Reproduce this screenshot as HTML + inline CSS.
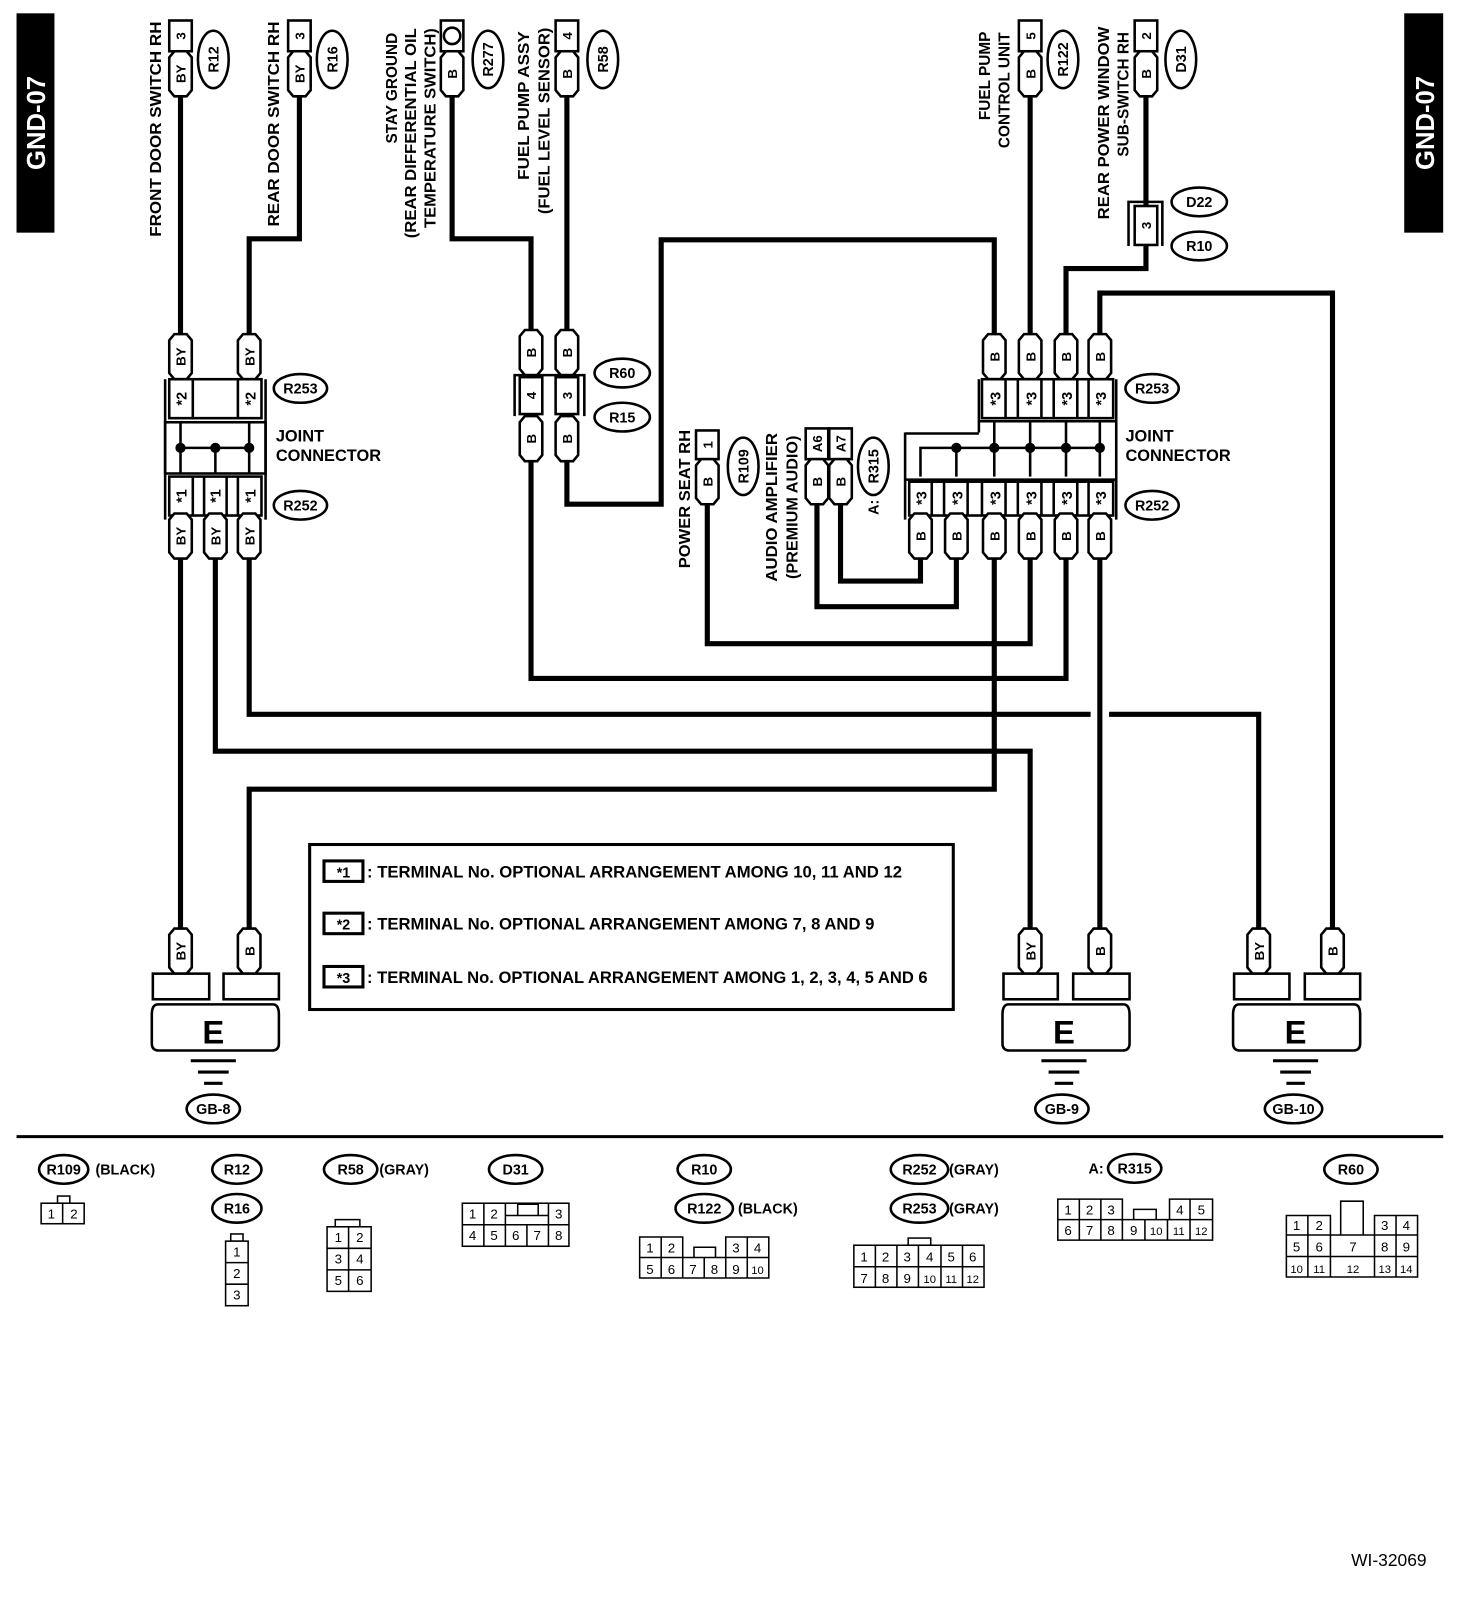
<!DOCTYPE html>
<html><head><meta charset="utf-8"><style>
html,body{margin:0;padding:0;background:#fff;}
svg{display:block;}
text{font-family:"Liberation Sans",Arial,sans-serif;font-weight:bold;fill:#000;}
.w{fill:none;stroke:#000;stroke-width:5;}
.b{fill:#fff;stroke:#000;stroke-width:2.5;}
.n{font-weight:normal;}
</style></head><body>
<svg width="1472" height="1606" viewBox="0 0 1436 1567" xmlns="http://www.w3.org/2000/svg">
<defs>
<path id="p" d="M-11,-16 L-6,-22 L6,-22 L11,-16 L11,16 L6,22 L-6,22 L-11,16Z" fill="#fff" stroke="#000" stroke-width="2.5"/>
</defs>
<rect width="1436" height="1567" fill="#fff"/>

<rect x="16" y="13" width="37" height="214" fill="#000"/>
<text transform="translate(44,120) rotate(-90)" text-anchor="middle" font-size="25" style="fill:#fff">GND-07</text>
<rect x="1370" y="13" width="38" height="214" fill="#000"/>
<text transform="translate(1399,120) rotate(-90)" text-anchor="middle" font-size="25" style="fill:#fff">GND-07</text>

<g class="w">
<path d="M176,95 V330"/>
<path d="M292,95 V233 H243 V330"/>
<path d="M441,95 V233 H518 V322"/>
<path d="M553,95 V322"/>
<path d="M518,450 V662 H1040 V545"/>
<path d="M553,450 V492 H645 V234 H970 V326"/>
<path d="M1005,95 V326"/>
<path d="M1118,95 V200"/>
<path d="M1118,240 V262 H1040 V326"/>
<path d="M1073,326 V286 H1300 V905"/>
<path d="M898,545 V567 H820 V492"/>
<path d="M933,545 V592 H797 V492"/>
<path d="M970,545 V770 H243 V905"/>
<path d="M1005,545 V628 H690 V492"/>
<path d="M1073,545 V905"/>
<path d="M176,545 V905"/>
<path d="M210,545 V733 H1005 V905"/>
<path d="M243,545 V697 H1064"/>
<path d="M1082,697 H1228 V905"/>
</g>

<g>
<rect class="b" x="165" y="20" width="22" height="30"/>
<text transform="translate(181,35) rotate(-90)" text-anchor="middle" font-size="13">3</text>
<use href="#p" x="176" y="72"/>
<text transform="translate(181,72) rotate(-90)" text-anchor="middle" font-size="13">BY</text>
<ellipse class="b" cx="208" cy="58" rx="15" ry="28"/>
<text transform="translate(213,58) rotate(-90)" text-anchor="middle" font-size="14">R12</text>
<text transform="translate(157,126) rotate(-90)" text-anchor="middle" font-size="15" textLength="210" lengthAdjust="spacingAndGlyphs">FRONT DOOR SWITCH RH</text>

<rect class="b" x="281" y="20" width="22" height="30"/>
<text transform="translate(297,35) rotate(-90)" text-anchor="middle" font-size="13">3</text>
<use href="#p" x="292" y="72"/>
<text transform="translate(297,72) rotate(-90)" text-anchor="middle" font-size="13">BY</text>
<ellipse class="b" cx="324" cy="58" rx="15" ry="28"/>
<text transform="translate(329,58) rotate(-90)" text-anchor="middle" font-size="14">R16</text>
<text transform="translate(272,121) rotate(-90)" text-anchor="middle" font-size="15" textLength="200" lengthAdjust="spacingAndGlyphs">REAR DOOR SWITCH RH</text>

<rect class="b" x="430" y="20" width="22" height="30"/>
<circle cx="441" cy="35" r="8" fill="#fff" stroke="#000" stroke-width="2.5"/>
<use href="#p" x="441" y="72"/>
<text transform="translate(446,72) rotate(-90)" text-anchor="middle" font-size="13">B</text>
<ellipse class="b" cx="476" cy="58" rx="15" ry="28"/>
<text transform="translate(481,58) rotate(-90)" text-anchor="middle" font-size="14">R277</text>
<text transform="translate(387,86) rotate(-90)" text-anchor="middle" font-size="15">STAY GROUND</text>
<text transform="translate(406,130) rotate(-90)" text-anchor="middle" font-size="15" textLength="205" lengthAdjust="spacingAndGlyphs">(REAR DIFFERENTIAL OIL</text>
<text transform="translate(425,125) rotate(-90)" text-anchor="middle" font-size="15" textLength="195" lengthAdjust="spacingAndGlyphs">TEMPERATURE SWITCH)</text>

<rect class="b" x="542" y="20" width="22" height="30"/>
<text transform="translate(558,35) rotate(-90)" text-anchor="middle" font-size="13">4</text>
<use href="#p" x="553" y="72"/>
<text transform="translate(558,72) rotate(-90)" text-anchor="middle" font-size="13">B</text>
<ellipse class="b" cx="588" cy="58" rx="15" ry="28"/>
<text transform="translate(593,58) rotate(-90)" text-anchor="middle" font-size="14">R58</text>
<text transform="translate(516,103) rotate(-90)" text-anchor="middle" font-size="15" textLength="145" lengthAdjust="spacingAndGlyphs">FUEL PUMP ASSY</text>
<text transform="translate(536,118) rotate(-90)" text-anchor="middle" font-size="15" textLength="182" lengthAdjust="spacingAndGlyphs">(FUEL LEVEL SENSOR)</text>

<rect class="b" x="994" y="20" width="22" height="30"/>
<text transform="translate(1010,35) rotate(-90)" text-anchor="middle" font-size="13">5</text>
<use href="#p" x="1005" y="72"/>
<text transform="translate(1010,72) rotate(-90)" text-anchor="middle" font-size="13">B</text>
<ellipse class="b" cx="1037" cy="58" rx="15" ry="28"/>
<text transform="translate(1042,58) rotate(-90)" text-anchor="middle" font-size="14">R122</text>
<text transform="translate(966,74) rotate(-90)" text-anchor="middle" font-size="15">FUEL PUMP</text>
<text transform="translate(985,88) rotate(-90)" text-anchor="middle" font-size="15">CONTROL UNIT</text>

<rect class="b" x="1107" y="20" width="22" height="30"/>
<text transform="translate(1123,35) rotate(-90)" text-anchor="middle" font-size="13">2</text>
<use href="#p" x="1118" y="72"/>
<text transform="translate(1123,72) rotate(-90)" text-anchor="middle" font-size="13">B</text>
<ellipse class="b" cx="1152" cy="58" rx="15" ry="28"/>
<text transform="translate(1157,58) rotate(-90)" text-anchor="middle" font-size="14">D31</text>
<text transform="translate(1082,120) rotate(-90)" text-anchor="middle" font-size="15" textLength="188" lengthAdjust="spacingAndGlyphs">REAR POWER WINDOW</text>
<text transform="translate(1101,92) rotate(-90)" text-anchor="middle" font-size="15">SUB-SWITCH RH</text>

<path d="M1101,240 V197 H1134 V240" fill="none" stroke="#000" stroke-width="2.5"/>
<rect class="b" x="1107" y="201" width="22" height="38"/>
<text transform="translate(1123,220) rotate(-90)" text-anchor="middle" font-size="13">3</text>
<ellipse class="b" cx="1170" cy="197" rx="27" ry="14"/>
<text x="1170" y="202" text-anchor="middle" font-size="14">D22</text>
<ellipse class="b" cx="1170" cy="240" rx="27" ry="14"/>
<text x="1170" y="245" text-anchor="middle" font-size="14">R10</text>
</g>

<use href="#p" x="518" y="344"/><text transform="translate(523,344) rotate(-90)" text-anchor="middle" font-size="13">B</text>
<use href="#p" x="553" y="344"/><text transform="translate(558,344) rotate(-90)" text-anchor="middle" font-size="13">B</text>
<path d="M502,406 V366 H570 V406" fill="none" stroke="#000" stroke-width="2.5"/>
<rect class="b" x="507" y="368" width="22" height="36"/><rect class="b" x="542" y="368" width="22" height="36"/>
<text transform="translate(523,386) rotate(-90)" text-anchor="middle" font-size="13">4</text>
<text transform="translate(558,386) rotate(-90)" text-anchor="middle" font-size="13">3</text>
<use href="#p" x="518" y="428"/><text transform="translate(523,428) rotate(-90)" text-anchor="middle" font-size="13">B</text>
<use href="#p" x="553" y="428"/><text transform="translate(558,428) rotate(-90)" text-anchor="middle" font-size="13">B</text>
<ellipse class="b" cx="607" cy="364" rx="27" ry="14"/><text x="607" y="369" text-anchor="middle" font-size="14">R60</text>
<ellipse class="b" cx="607" cy="407" rx="27" ry="14"/><text x="607" y="412" text-anchor="middle" font-size="14">R15</text>

<use href="#p" x="176" y="348"/><text transform="translate(181,348) rotate(-90)" text-anchor="middle" font-size="13">BY</text>
<use href="#p" x="243" y="348"/><text transform="translate(248,348) rotate(-90)" text-anchor="middle" font-size="13">BY</text>
<path d="M161,370 V507 M259,370 V507" stroke="#000" stroke-width="2.5"/>
<rect class="b" x="165" y="370" width="90" height="38"/>
<path d="M188,370 V408 M232,370 V408" stroke="#000" stroke-width="2.5"/>
<text transform="translate(182,389) rotate(-90)" text-anchor="middle" font-size="14">*2</text>
<text transform="translate(249,389) rotate(-90)" text-anchor="middle" font-size="14">*2</text>
<rect x="161" y="412" width="98" height="50" fill="none" stroke="#000" stroke-width="2.5"/>
<path d="M176,412 V462 M210,437 V462 M243,412 V462 M176,437 H243" stroke="#000" stroke-width="2.5"/>
<circle cx="176" cy="437" r="5"/><circle cx="210" cy="437" r="5"/><circle cx="243" cy="437" r="5"/>
<rect class="b" x="165" y="465" width="90" height="38"/>
<path d="M188,465 V503 M199,465 V503 M221,465 V503 M232,465 V503" stroke="#000" stroke-width="2.5"/>
<text transform="translate(182,484) rotate(-90)" text-anchor="middle" font-size="14">*1</text>
<text transform="translate(215,484) rotate(-90)" text-anchor="middle" font-size="14">*1</text>
<text transform="translate(249,484) rotate(-90)" text-anchor="middle" font-size="14">*1</text>
<use href="#p" x="176" y="523"/><text transform="translate(181,523) rotate(-90)" text-anchor="middle" font-size="13">BY</text>
<use href="#p" x="210" y="523"/><text transform="translate(215,523) rotate(-90)" text-anchor="middle" font-size="13">BY</text>
<use href="#p" x="243" y="523"/><text transform="translate(248,523) rotate(-90)" text-anchor="middle" font-size="13">BY</text>
<ellipse class="b" cx="293" cy="379" rx="26" ry="14"/><text x="293" y="384" text-anchor="middle" font-size="14">R253</text>
<ellipse class="b" cx="293" cy="493" rx="26" ry="14"/><text x="293" y="498" text-anchor="middle" font-size="14">R252</text>
<text x="269" y="431" font-size="16">JOINT</text><text x="269" y="450" font-size="16">CONNECTOR</text>

<g>
<use href="#p" x="970" y="348"/><text transform="translate(975,348) rotate(-90)" text-anchor="middle" font-size="13">B</text>
<use href="#p" x="1005" y="348"/><text transform="translate(1010,348) rotate(-90)" text-anchor="middle" font-size="13">B</text>
<use href="#p" x="1040" y="348"/><text transform="translate(1045,348) rotate(-90)" text-anchor="middle" font-size="13">B</text>
<use href="#p" x="1073" y="348"/><text transform="translate(1078,348) rotate(-90)" text-anchor="middle" font-size="13">B</text>
<path d="M955,370 V422 M1089,370 V507 M883,422 V507" stroke="#000" stroke-width="2.5"/>
<rect class="b" x="958" y="370" width="128" height="38"/>
<path d="M981,370 V408 M993,370 V408 M1016,370 V408 M1028,370 V408 M1051,370 V408 M1062,370 V408" stroke="#000" stroke-width="2.5"/>
<text transform="translate(976,389) rotate(-90)" text-anchor="middle" font-size="14">*3</text>
<text transform="translate(1011,389) rotate(-90)" text-anchor="middle" font-size="14">*3</text>
<text transform="translate(1046,389) rotate(-90)" text-anchor="middle" font-size="14">*3</text>
<text transform="translate(1079,389) rotate(-90)" text-anchor="middle" font-size="14">*3</text>
<path d="M883,423 H955 M955,411 H1089 M883,468 H1089" fill="none" stroke="#000" stroke-width="2.5"/>
<path d="M898,465 V437 H1073 M933,437 V465 M970,411 V465 M1005,411 V465 M1040,411 V465 M1073,411 V465" fill="none" stroke="#000" stroke-width="2.5"/>
<circle cx="933" cy="437" r="5"/><circle cx="970" cy="437" r="5"/><circle cx="1005" cy="437" r="5"/><circle cx="1040" cy="437" r="5"/><circle cx="1073" cy="437" r="5"/>
<rect class="b" x="887" y="470" width="199" height="33"/>
<path d="M909,470 V503 M921,470 V503 M944,470 V503 M958,470 V503 M981,470 V503 M993,470 V503 M1016,470 V503 M1028,470 V503 M1051,470 V503 M1062,470 V503" stroke="#000" stroke-width="2.5"/>
<text transform="translate(904,486) rotate(-90)" text-anchor="middle" font-size="14">*3</text>
<text transform="translate(939,486) rotate(-90)" text-anchor="middle" font-size="14">*3</text>
<text transform="translate(976,486) rotate(-90)" text-anchor="middle" font-size="14">*3</text>
<text transform="translate(1011,486) rotate(-90)" text-anchor="middle" font-size="14">*3</text>
<text transform="translate(1046,486) rotate(-90)" text-anchor="middle" font-size="14">*3</text>
<text transform="translate(1079,486) rotate(-90)" text-anchor="middle" font-size="14">*3</text>
<use href="#p" x="898" y="523"/><text transform="translate(903,523) rotate(-90)" text-anchor="middle" font-size="13">B</text>
<use href="#p" x="933" y="523"/><text transform="translate(938,523) rotate(-90)" text-anchor="middle" font-size="13">B</text>
<use href="#p" x="970" y="523"/><text transform="translate(975,523) rotate(-90)" text-anchor="middle" font-size="13">B</text>
<use href="#p" x="1005" y="523"/><text transform="translate(1010,523) rotate(-90)" text-anchor="middle" font-size="13">B</text>
<use href="#p" x="1040" y="523"/><text transform="translate(1045,523) rotate(-90)" text-anchor="middle" font-size="13">B</text>
<use href="#p" x="1073" y="523"/><text transform="translate(1078,523) rotate(-90)" text-anchor="middle" font-size="13">B</text>
<ellipse class="b" cx="1124" cy="379" rx="26" ry="14"/><text x="1124" y="384" text-anchor="middle" font-size="14">R253</text>
<ellipse class="b" cx="1124" cy="493" rx="26" ry="14"/><text x="1124" y="498" text-anchor="middle" font-size="14">R252</text>
<text x="1098" y="431" font-size="16">JOINT</text><text x="1098" y="450" font-size="16">CONNECTOR</text>
</g>

<rect class="b" x="679" y="420" width="22" height="28"/>
<text transform="translate(695,434) rotate(-90)" text-anchor="middle" font-size="13">1</text>
<use href="#p" x="690" y="470"/><text transform="translate(695,470) rotate(-90)" text-anchor="middle" font-size="13">B</text>
<ellipse class="b" cx="725" cy="455" rx="15" ry="28"/>
<text transform="translate(730,455) rotate(-90)" text-anchor="middle" font-size="14">R109</text>
<text transform="translate(673,487) rotate(-90)" text-anchor="middle" font-size="15" textLength="135" lengthAdjust="spacingAndGlyphs">POWER SEAT RH</text>
<rect class="b" x="786" y="418" width="22" height="30"/><rect class="b" x="809" y="418" width="22" height="30"/>
<text transform="translate(802,433) rotate(-90)" text-anchor="middle" font-size="13">A6</text>
<text transform="translate(825,433) rotate(-90)" text-anchor="middle" font-size="13">A7</text>
<use href="#p" x="797" y="470"/><text transform="translate(802,470) rotate(-90)" text-anchor="middle" font-size="13">B</text>
<use href="#p" x="820" y="470"/><text transform="translate(825,470) rotate(-90)" text-anchor="middle" font-size="13">B</text>
<ellipse class="b" cx="852" cy="455" rx="15" ry="28"/>
<text transform="translate(857,455) rotate(-90)" text-anchor="middle" font-size="14">R315</text>
<text transform="translate(857,495) rotate(-90)" text-anchor="middle" font-size="14">A:</text>
<text transform="translate(758,495) rotate(-90)" text-anchor="middle" font-size="15" textLength="145" lengthAdjust="spacingAndGlyphs">AUDIO AMPLIFIER</text>
<text transform="translate(778,495) rotate(-90)" text-anchor="middle" font-size="15" textLength="140" lengthAdjust="spacingAndGlyphs">(PREMIUM AUDIO)</text>

<rect x="302" y="824" width="628" height="161" fill="none" stroke="#000" stroke-width="3"/>
<g font-size="16">
<rect x="316" y="840" width="38" height="20" fill="none" stroke="#000" stroke-width="3"/><text x="335" y="856" text-anchor="middle" font-size="14">*1</text>
<text x="358" y="856" textLength="522" lengthAdjust="spacingAndGlyphs">: TERMINAL No. OPTIONAL ARRANGEMENT AMONG 10, 11 AND 12</text>
<rect x="316" y="891" width="38" height="20" fill="none" stroke="#000" stroke-width="3"/><text x="335" y="907" text-anchor="middle" font-size="14">*2</text>
<text x="358" y="907" textLength="495" lengthAdjust="spacingAndGlyphs">: TERMINAL No. OPTIONAL ARRANGEMENT AMONG 7, 8 AND 9</text>
<rect x="316" y="943" width="38" height="20" fill="none" stroke="#000" stroke-width="3"/><text x="335" y="959" text-anchor="middle" font-size="14">*3</text>
<text x="358" y="959" textLength="547" lengthAdjust="spacingAndGlyphs">: TERMINAL No. OPTIONAL ARRANGEMENT AMONG 1, 2, 3, 4, 5 AND 6</text>
</g>

<g>
<use href="#p" x="176" y="928"/><text transform="translate(181,928) rotate(-90)" text-anchor="middle" font-size="13">BY</text>
<use href="#p" x="243" y="928"/><text transform="translate(248,928) rotate(-90)" text-anchor="middle" font-size="13">B</text>
<rect class="b" x="149" y="950" width="55" height="25"/><rect class="b" x="218" y="950" width="54" height="25"/>
<path d="M154,980 Q148,980 148,990 V1018 Q148,1025 155,1025 H265 Q272,1025 272,1018 V990 Q272,980 266,980 Z" class="b"/>
<text x="208" y="1018" text-anchor="middle" font-size="32">E</text>
<path d="M186,1035 H230 M193,1046 H223 M199,1057 H217" stroke="#000" stroke-width="3"/>
<ellipse class="b" cx="208" cy="1082" rx="26" ry="14"/><text x="208" y="1087" text-anchor="middle" font-size="14">GB-8</text>

<use href="#p" x="1005" y="928"/><text transform="translate(1010,928) rotate(-90)" text-anchor="middle" font-size="13">BY</text>
<use href="#p" x="1073" y="928"/><text transform="translate(1078,928) rotate(-90)" text-anchor="middle" font-size="13">B</text>
<rect class="b" x="979" y="950" width="53" height="25"/><rect class="b" x="1047" y="950" width="55" height="25"/>
<path d="M984,980 Q978,980 978,990 V1018 Q978,1025 985,1025 H1095 Q1102,1025 1102,1018 V990 Q1102,980 1096,980 Z" class="b"/>
<text x="1038" y="1018" text-anchor="middle" font-size="32">E</text>
<path d="M1016,1035 H1060 M1023,1046 H1053 M1029,1057 H1047" stroke="#000" stroke-width="3"/>
<ellipse class="b" cx="1036" cy="1082" rx="26" ry="14"/><text x="1036" y="1087" text-anchor="middle" font-size="14">GB-9</text>

<use href="#p" x="1228" y="928"/><text transform="translate(1233,928) rotate(-90)" text-anchor="middle" font-size="13">BY</text>
<use href="#p" x="1300" y="928"/><text transform="translate(1305,928) rotate(-90)" text-anchor="middle" font-size="13">B</text>
<rect class="b" x="1204" y="950" width="54" height="25"/><rect class="b" x="1273" y="950" width="54" height="25"/>
<path d="M1209,980 Q1203,980 1203,990 V1018 Q1203,1025 1210,1025 H1320 Q1327,1025 1327,1018 V990 Q1327,980 1321,980 Z" class="b"/>
<text x="1264" y="1018" text-anchor="middle" font-size="32">E</text>
<path d="M1242,1035 H1286 M1249,1046 H1279 M1255,1057 H1273" stroke="#000" stroke-width="3"/>
<ellipse class="b" cx="1262" cy="1082" rx="28" ry="14"/><text x="1262" y="1087" text-anchor="middle" font-size="14">GB-10</text>
</g>

<path d="M16,1109 H1408" stroke="#000" stroke-width="3"/>

<g font-size="14">
<ellipse class="b" cx="62" cy="1141" rx="24" ry="14"/><text x="62" y="1146" text-anchor="middle">R109</text><text x="93" y="1146">(BLACK)</text>
<g fill="#fff" stroke="#000" stroke-width="1.5"><rect x="56" y="1167" width="12" height="7"/><rect x="40" y="1174" width="42" height="20"/><path d="M61,1174 V1194"/></g>
<g class="n" text-anchor="middle" font-size="13"><text class="n" x="50" y="1189">1</text><text class="n" x="72" y="1189">2</text></g>

<ellipse class="b" cx="231" cy="1141" rx="24" ry="14"/><text x="231" y="1146" text-anchor="middle">R12</text>
<ellipse class="b" cx="231" cy="1179" rx="24" ry="14"/><text x="231" y="1184" text-anchor="middle">R16</text>
<g fill="#fff" stroke="#000" stroke-width="1.5"><rect x="225" y="1204" width="12" height="7"/><rect x="220" y="1211" width="22" height="63"/><path d="M220,1232 H242 M220,1253 H242"/></g>
<g text-anchor="middle" font-size="13"><text class="n" x="231" y="1226">1</text><text class="n" x="231" y="1247">2</text><text class="n" x="231" y="1268">3</text></g>

<ellipse class="b" cx="342" cy="1141" rx="26" ry="14"/><text x="342" y="1146" text-anchor="middle">R58</text><text x="370" y="1146">(GRAY)</text>
<g fill="#fff" stroke="#000" stroke-width="1.5"><rect x="327" y="1190" width="24" height="7"/><rect x="319" y="1197" width="43" height="63"/><path d="M340,1197 V1260 M319,1218 H362 M319,1239 H362"/></g>
<g text-anchor="middle" font-size="13"><text class="n" x="330" y="1212">1</text><text class="n" x="351" y="1212">2</text><text class="n" x="330" y="1233">3</text><text class="n" x="351" y="1233">4</text><text class="n" x="330" y="1254">5</text><text class="n" x="351" y="1254">6</text></g>

<ellipse class="b" cx="503" cy="1141" rx="26" ry="14"/><text x="503" y="1146" text-anchor="middle">D31</text>
<g fill="none" stroke="#000" stroke-width="1.5"><rect x="451" y="1174" width="104" height="42"/><path d="M451,1195 H555 M472,1174 V1216 M493,1174 V1216 M514,1195 V1216 M535,1174 V1216 M493,1186 H535 M505,1186 V1175 H525 V1186"/></g>
<g text-anchor="middle" font-size="13"><text class="n" x="461" y="1189">1</text><text class="n" x="482" y="1189">2</text><text class="n" x="545" y="1189">3</text><text class="n" x="461" y="1210">4</text><text class="n" x="482" y="1210">5</text><text class="n" x="503" y="1210">6</text><text class="n" x="524" y="1210">7</text><text class="n" x="545" y="1210">8</text></g>

<ellipse class="b" cx="687" cy="1141" rx="26" ry="14"/><text x="687" y="1146" text-anchor="middle">R10</text>
<ellipse class="b" cx="687" cy="1179" rx="28" ry="14"/><text x="687" y="1184" text-anchor="middle">R122</text><text x="720" y="1184">(BLACK)</text>
<g fill="none" stroke="#000" stroke-width="1.5"><path d="M624,1207 H666 V1227 H708 V1207 H750 V1247 H624 Z M624,1227 H666 M708,1227 H750 M645,1207 V1247 M666,1227 V1247 M687,1227 V1247 M708,1227 V1247 M729,1207 V1247 M677,1227 V1217 H698 V1227"/></g>
<g text-anchor="middle" font-size="13"><text class="n" x="634" y="1222">1</text><text class="n" x="655" y="1222">2</text><text class="n" x="718" y="1222">3</text><text class="n" x="739" y="1222">4</text><text class="n" x="634" y="1243">5</text><text class="n" x="655" y="1243">6</text><text class="n" x="676" y="1243">7</text><text class="n" x="697" y="1243">8</text><text class="n" x="718" y="1243">9</text><text class="n" x="739" y="1243" font-size="11">10</text></g>

<ellipse class="b" cx="897" cy="1141" rx="28" ry="14"/><text x="897" y="1146" text-anchor="middle">R252</text><text x="926" y="1146">(GRAY)</text>
<ellipse class="b" cx="897" cy="1179" rx="28" ry="14"/><text x="897" y="1184" text-anchor="middle">R253</text><text x="926" y="1184">(GRAY)</text>
<g fill="none" stroke="#000" stroke-width="1.5"><rect x="886" y="1208" width="22" height="7"/><rect x="833" y="1215" width="127" height="41"/><path d="M833,1236 H960 M854,1215 V1256 M875,1215 V1256 M896,1215 V1256 M918,1215 V1256 M939,1215 V1256"/></g>
<g text-anchor="middle" font-size="13"><text class="n" x="843" y="1231">1</text><text class="n" x="864" y="1231">2</text><text class="n" x="885" y="1231">3</text><text class="n" x="907" y="1231">4</text><text class="n" x="928" y="1231">5</text><text class="n" x="949" y="1231">6</text><text class="n" x="843" y="1252">7</text><text class="n" x="864" y="1252">8</text><text class="n" x="885" y="1252">9</text><text class="n" x="907" y="1252" font-size="11">10</text><text class="n" x="928" y="1252" font-size="11">11</text><text class="n" x="949" y="1252" font-size="11">12</text></g>

<text x="1062" y="1145">A:</text>
<ellipse class="b" cx="1107" cy="1140" rx="26" ry="14"/><text x="1107" y="1145" text-anchor="middle">R315</text>
<g fill="none" stroke="#000" stroke-width="1.5"><path d="M1032,1170 H1095 V1190 H1141 V1170 H1183 V1210 H1032 Z M1032,1190 H1095 M1141,1190 H1183 M1053,1170 V1210 M1074,1170 V1210 M1095,1190 V1210 M1117,1190 V1210 M1139,1190 V1210 M1161,1170 V1210 M1106,1190 V1180 H1128 V1190"/></g>
<g text-anchor="middle" font-size="13"><text class="n" x="1042" y="1185">1</text><text class="n" x="1063" y="1185">2</text><text class="n" x="1084" y="1185">3</text><text class="n" x="1151" y="1185">4</text><text class="n" x="1172" y="1185">5</text><text class="n" x="1042" y="1205">6</text><text class="n" x="1063" y="1205">7</text><text class="n" x="1084" y="1205">8</text><text class="n" x="1106" y="1205">9</text><text class="n" x="1128" y="1205" font-size="11">10</text><text class="n" x="1150" y="1205" font-size="11">11</text><text class="n" x="1172" y="1205" font-size="11">12</text></g>

<ellipse class="b" cx="1318" cy="1141" rx="26" ry="14"/><text x="1318" y="1146" text-anchor="middle">R60</text>
<g fill="none" stroke="#000" stroke-width="1.5"><path d="M1255,1186 H1298 V1205 H1341 V1186 H1383 V1246 H1255 Z M1255,1205 H1298 M1341,1205 H1383 M1255,1226 H1383 M1276,1186 V1246 M1298,1205 V1246 M1341,1205 V1246 M1362,1186 V1246 M1308,1205 V1172 H1330 V1205"/></g>
<g text-anchor="middle" font-size="13"><text class="n" x="1265" y="1200">1</text><text class="n" x="1287" y="1200">2</text><text class="n" x="1351" y="1200">3</text><text class="n" x="1372" y="1200">4</text><text class="n" x="1265" y="1221">5</text><text class="n" x="1287" y="1221">6</text><text class="n" x="1320" y="1221">7</text><text class="n" x="1351" y="1221">8</text><text class="n" x="1372" y="1221">9</text><text class="n" x="1265" y="1242" font-size="11">10</text><text class="n" x="1287" y="1242" font-size="11">11</text><text class="n" x="1320" y="1242" font-size="11">12</text><text class="n" x="1351" y="1242" font-size="11">13</text><text class="n" x="1372" y="1242" font-size="11">14</text></g>
</g>

<text class="n" x="1355" y="1528" text-anchor="middle" font-size="17">WI-32069</text>
</svg>
</body></html>
